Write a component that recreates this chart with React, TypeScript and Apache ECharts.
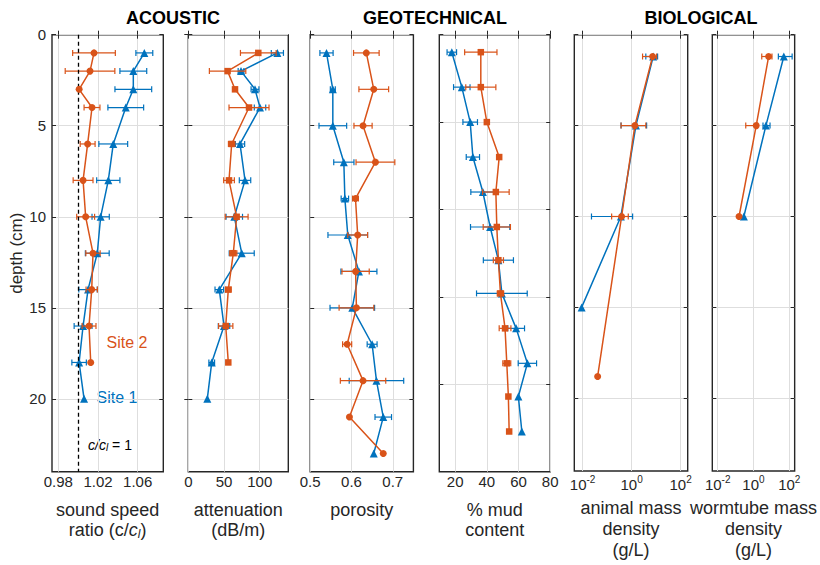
import React, { useEffect, useRef } from 'react';
import * as echarts from 'echarts';

const BLUE = '#0072BD';
const ORANGE = '#D95319';
const INK = '#262626';
const GRIDC = '#dedede';
const FONT = '"Liberation Sans", Arial, Helvetica, sans-serif';

// ---------- ACOUSTIC: sound speed ratio ----------
const ssDepthS1 = [1, 2, 3, 4, 6, 8, 10, 12, 14, 16, 18, 20];
const ssS1 = [1.0667, 1.0556, 1.0556, 1.048, 1.0354, 1.0304, 1.0227, 1.0193, 1.010, 1.005, 1.001, 1.006];
const ssErrS1 = [0.0085, 0.0135, 0.0185, 0.018, 0.0145, 0.0117, 0.0087, 0.012, 0.0093, 0.009, 0.0073, null];
const ssDepthS2 = [1, 2, 3, 4, 6, 8, 10, 12, 14, 16, 18];
const ssS2 = [1.016, 1.012, 1.001, 1.014, 1.0096, 1.005, 1.0076, 1.015, 1.0137, 1.011, 1.0127];
const ssErrS2 = [0.0215, 0.025, null, 0.008, 0.0075, 0.010, 0.009, 0.0072, 0.0057, 0.007, null];
const ssTicks = [0.98, 1.02, 1.06];

// ---------- ACOUSTIC: attenuation ----------
const atDepthS1 = [1, 2, 3, 4, 6, 8, 10, 12, 14, 16, 18, 20];
const atS1 = [124.7, 73.8, 93.4, 100.4, 72.4, 79.4, 64.4, 74.8, 43.4, 50, 32.8, 26.6];
const atErrS1 = [8.5, 4, 5.5, 8, 6.5, 8, 11.5, 17.5, 6, 8, 4, null];
const atDepthS2 = [1, 2, 3, 4, 6, 8, 10, 12, 14, 16, 18];
const atS2 = [98, 55, 65.4, 85, 60.7, 57, 67.7, 63, 56, 52.4, 56];
const atErrS2 = [25, 25.5, null, 28, 4.5, 7.5, 16, 5, 4, 10, null];
const atTicks = [0, 50, 100];

// ---------- GEOTECHNICAL: porosity ----------
const poDepth = [1, 3, 5, 7, 9, 11, 13, 15, 17, 19, 21, 23];
const poS1 = [0.5395, 0.5548, 0.5548, 0.5815, 0.584, 0.591, 0.618, 0.602, 0.650, 0.6605, 0.677, 0.654];
const poErrS1 = [0.016, 0.006, 0.0335, 0.0245, 0.009, 0.048, 0.0436, 0.054, 0.012, 0.066, 0.02, null];
const poS2 = [0.636, 0.654, 0.628, 0.658, 0.6097, 0.615, 0.61, 0.612, 0.5895, 0.628, 0.595, 0.677];
const poErrS2 = [0.031, 0.036, 0.022, 0.047, 0.007, 0.024, 0.033, 0.042, 0.011, 0.055, null, null];
const poTicks = [0.5, 0.6, 0.7];

// ---------- GEOTECHNICAL: % mud content ----------
const mdDepth = [1, 3, 5, 7, 9, 11, 12.9, 14.8, 16.8, 18.8, 20.7, 22.7];
const mdS1 = [17.9, 24.2, 29.5, 31.2, 37.5, 42.1, 47.3, 49.5, 58.5, 65.6, 59.9, 62.1];
const mdErrS1 = [3, 5.2, 4.6, 4.2, 7.6, 12.4, 9.5, 16, 5.3, 5.8, null, null];
const mdS2 = [36.2, 36.2, 40, 47.8, 45.7, 46.3, 47.3, 48.6, 51.5, 52.6, 53.6, 54.1];
const mdErrS2 = [10.2, 9.5, null, null, 8.4, 8.6, 3.2, 2, 3.7, 2.5, null, null];
const mdTicks = [20, 40, 60, 80];

// ---------- BIOLOGICAL: animal mass density (g/L) ----------
const anDepthS1 = [1.2, 5, 10, 15];
const anS1 = [7.6, 1.5, 0.365, 0.0091];
const anLoS1 = [3.8, 0.37, 0.023, null];
const anHiS1 = [11.5, 4.1, 1.1, null];
const anDepthS2 = [1.2, 5, 10, 18.8];
const anS2 = [7.2, 1.36, 0.39, 0.041];
const anLoS2 = [2.8, 0.37, 0.153, null];
const anHiS2 = [10.5, 3.8, 0.73, null];

// ---------- BIOLOGICAL: wormtube mass density (g/L) ----------
const wtDepth = [1.2, 5, 10];
const wtS1 = [49.5, 4.95, 0.29];
const wtLoS1 = [24.5, 3.4, null];
const wtHiS1 = [144, 8.4, null];
const wtS2 = [7.0, 1.42, 0.156];
const wtLoS2 = [2.9, 0.37, null];
const wtHiS2 = [10.8, 1.7, null];
const logTicks = [0.01, 1, 100];

const depthLabels = [0, 5, 10, 15, 20];
const depthMax = [24, 24, 24, 25, 24, 24];

type Site = {
  depth: number[];
  val: number[];
  lo: (number | null)[];
  hi: (number | null)[];
  color: string;
  symbol: string;
  size: number;
};

const sym = (val: number[], err: (number | null)[]) => ({
  lo: val.map((v, i) => (err[i] == null ? null : v - (err[i] as number))),
  hi: val.map((v, i) => (err[i] == null ? null : v + (err[i] as number))),
});

const TRI = 'triangle';

const panels = [
  {
    left: 52, width: 111.3, type: 'value', min: 0.9737, max: 1.0858, ticks: ssTicks,
    name: 'sound speed\nratio (c/{i|c}{sub|l})', fmt: (v: number) => v.toFixed(2),
    sites: [
      { depth: ssDepthS1, val: ssS1, ...sym(ssS1, ssErrS1), color: BLUE, symbol: TRI, size: 8 },
      { depth: ssDepthS2, val: ssS2, ...sym(ssS2, ssErrS2), color: ORANGE, symbol: 'circle', size: 7 },
    ],
  },
  {
    left: 188.3, width: 100, type: 'value', min: 0, max: 140, ticks: atTicks,
    name: 'attenuation\n(dB/m)', fmt: (v: number) => String(v),
    sites: [
      { depth: atDepthS1, val: atS1, ...sym(atS1, atErrS1), color: BLUE, symbol: TRI, size: 8 },
      { depth: atDepthS2, val: atS2, ...sym(atS2, atErrS2), color: ORANGE, symbol: 'rect', size: 6.5 },
    ],
  },
  {
    left: 310.2, width: 103.2, type: 'value', min: 0.5, max: 0.75, ticks: poTicks,
    name: 'porosity', fmt: (v: number) => v.toFixed(1),
    sites: [
      { depth: poDepth, val: poS1, ...sym(poS1, poErrS1), color: BLUE, symbol: TRI, size: 8 },
      { depth: poDepth, val: poS2, ...sym(poS2, poErrS2), color: ORANGE, symbol: 'circle', size: 7 },
    ],
  },
  {
    left: 439.3, width: 110.9, type: 'value', min: 10, max: 80, ticks: mdTicks,
    name: '% mud\ncontent', fmt: (v: number) => String(v),
    sites: [
      { depth: mdDepth, val: mdS1, ...sym(mdS1, mdErrS1), color: BLUE, symbol: TRI, size: 8 },
      { depth: mdDepth, val: mdS2, ...sym(mdS2, mdErrS2), color: ORANGE, symbol: 'rect', size: 6.5 },
    ],
  },
  {
    left: 574.3, width: 113.4, type: 'log', min: Math.pow(10, -2.34), max: Math.pow(10, 2.29), ticks: logTicks,
    name: 'animal mass\ndensity\n(g/L)', fmt: null,
    sites: [
      { depth: anDepthS1, val: anS1, lo: anLoS1, hi: anHiS1, color: BLUE, symbol: TRI, size: 8 },
      { depth: anDepthS2, val: anS2, lo: anLoS2, hi: anHiS2, color: ORANGE, symbol: 'circle', size: 7 },
    ],
  },
  {
    left: 712.3, width: 99.4, type: 'log', min: Math.pow(10, -2.3), max: Math.pow(10, 2.3), ticks: logTicks,
    name: 'wormtube mass\ndensity\n(g/L)', fmt: null,
    sites: [
      { depth: wtDepth, val: wtS1, lo: wtLoS1, hi: wtHiS1, color: BLUE, symbol: TRI, size: 8 },
      { depth: wtDepth, val: wtS2, lo: wtLoS2, hi: wtHiS2, color: ORANGE, symbol: 'circle', size: 7 },
    ],
  },
];

const TOP = 34.7;
const HEIGHT = 437;

function buildOption() {
  const grid: any[] = [];
  const xAxis: any[] = [];
  const yAxis: any[] = [];
  const series: any[] = [];

  panels.forEach((p, i) => {
    grid.push({
      left: p.left, top: TOP, width: p.width, height: HEIGHT,
      show: true, borderColor: INK, borderWidth: 1.4, backgroundColor: 'transparent',
    });
    const isLog = p.type === 'log';
    const labelFmt = isLog
      ? (v: number) => `{b|10}{s|${Math.round(Math.log10(v))}}`
      : p.fmt;
    xAxis.push({
      gridIndex: i, type: p.type, min: p.min, max: p.max, position: 'bottom',
      ...(isLog ? { logBase: 10 } : {}),
      axisLine: { show: false },
      axisTick: { show: true, inside: true, length: 4, customValues: p.ticks, lineStyle: { color: INK, width: 1 } },
      axisLabel: {
        show: true, customValues: p.ticks, formatter: labelFmt, margin: isLog ? 3 : 2,
        color: INK, fontSize: 15, fontFamily: FONT,
        rich: {
          b: { fontSize: 15, color: INK, fontFamily: FONT, lineHeight: 20 },
          s: { fontSize: 10, color: INK, fontFamily: FONT, verticalAlign: 'top', lineHeight: 12 },
        },
      },
      splitLine: { show: true, lineStyle: { color: GRIDC, width: 1 } },
      name: p.name, nameLocation: 'middle', nameGap: isLog ? 26 : 28,
      nameTextStyle: {
        color: INK, fontSize: 18, fontFamily: FONT, lineHeight: isLog ? 21 : 20, align: 'center',
        rich: {
          i: { fontStyle: 'italic', fontSize: 18, color: INK, fontFamily: FONT },
          sub: { fontStyle: 'italic', fontSize: 12, color: INK, fontFamily: FONT, verticalAlign: 'bottom', lineHeight: 14 },
        },
      },
    });
    xAxis.push({
      gridIndex: i, type: p.type, min: p.min, max: p.max, position: 'top',
      ...(isLog ? { logBase: 10 } : {}),
      axisLine: { show: false },
      axisTick: { show: true, inside: true, length: 4, customValues: p.ticks, lineStyle: { color: INK, width: 1 } },
      axisLabel: { show: false },
      splitLine: { show: false },
    });
    yAxis.push({
      gridIndex: i, type: 'value', inverse: true, min: 0, max: depthMax[i], interval: 5, position: 'left',
      axisLine: { show: false },
      axisTick: { show: true, inside: true, length: 4, customValues: depthLabels, lineStyle: { color: INK, width: 1 } },
      axisLabel: { show: i === 0, customValues: depthLabels, color: INK, fontSize: 15, fontFamily: FONT, margin: 6 },
      splitLine: { show: true, lineStyle: { color: GRIDC, width: 1 } },
      ...(i === 0
        ? { name: 'depth (cm)', nameLocation: 'middle', nameGap: 20, nameTextStyle: { color: INK, fontSize: 17, fontFamily: FONT } }
        : {}),
    });
    yAxis.push({
      gridIndex: i, type: 'value', inverse: true, min: 0, max: depthMax[i], interval: 5, position: 'right',
      axisLine: { show: false },
      axisTick: { show: true, inside: true, length: 4, customValues: depthLabels, lineStyle: { color: INK, width: 1 } },
      axisLabel: { show: false },
      splitLine: { show: false },
    });

    const xi = i * 2;
    const yi = i * 2;
    (p.sites as Site[]).forEach((s, si) => {
      const errData = s.depth
        .map((d, k) => (s.lo[k] == null ? null : [s.lo[k], s.hi[k], d]))
        .filter((x) => x !== null);
      const color = s.color;
      series.push({
        type: 'custom',
        xAxisIndex: xi, yAxisIndex: yi,
        encode: { x: [0, 1], y: 2 },
        data: errData,
        silent: true,
        z: 2 + si * 2,
        renderItem: (params: any, api: any) => {
          const y = api.value(2);
          const a = api.coord([api.value(0), y]);
          const b = api.coord([api.value(1), y]);
          const c = 3;
          const st = { stroke: color, lineWidth: 1.2 };
          return {
            type: 'group',
            children: [
              { type: 'line', shape: { x1: a[0], y1: a[1], x2: b[0], y2: b[1] }, style: st },
              { type: 'line', shape: { x1: a[0], y1: a[1] - c, x2: a[0], y2: a[1] + c }, style: st },
              { type: 'line', shape: { x1: b[0], y1: b[1] - c, x2: b[0], y2: b[1] + c }, style: st },
            ],
          };
        },
      });
      const line: any = {
        type: 'line',
        xAxisIndex: xi, yAxisIndex: yi,
        data: s.depth.map((d, k) => [s.val[k], d]),
        symbol: s.symbol, symbolSize: s.size,
        showSymbol: true,
        lineStyle: { color, width: 1.5 },
        itemStyle: { color },
        z: 3 + si * 2,
        silent: true,
      };
      if (i === 0 && si === 0) {
        line.markLine = {
          silent: true, symbol: ['none', 'none'], label: { show: false },
          lineStyle: { type: [4, 3], color: '#000', width: 1.3 },
          data: [{ xAxis: 1 }],
        };
      }
      series.push(line);
    });
  });

  const titleStyle = { fontSize: 18, fontWeight: 'bold', fill: '#000', fontFamily: FONT, align: 'center', verticalAlign: 'middle' };
  const graphic: any[] = [
    { type: 'text', x: 173, y: 18, style: { ...titleStyle, text: 'ACOUSTIC' } },
    { type: 'text', x: 435, y: 18, style: { ...titleStyle, text: 'GEOTECHNICAL' } },
    { type: 'text', x: 701, y: 18, style: { ...titleStyle, text: 'BIOLOGICAL' } },
    { type: 'text', x: 127, y: 342.5, style: { text: 'Site 2', fill: ORANGE, fontSize: 16, fontFamily: FONT, align: 'center', verticalAlign: 'middle' } },
    { type: 'text', x: 117, y: 397.5, style: { text: 'Site 1', fill: BLUE, fontSize: 16, fontFamily: FONT, align: 'center', verticalAlign: 'middle' } },
    {
      type: 'text', x: 110, y: 445,
      style: {
        text: '{i|c/c}{sub|l}{n| = 1}', align: 'center', verticalAlign: 'middle', fill: '#000',
        fontSize: 14, fontFamily: FONT,
        rich: {
          i: { fontStyle: 'italic', fontSize: 14, fontFamily: FONT, fill: '#000' },
          sub: { fontStyle: 'italic', fontSize: 10, fontFamily: FONT, fill: '#000', verticalAlign: 'bottom', lineHeight: 10 },
          n: { fontSize: 14, fontFamily: FONT, fill: '#000' },
        },
      },
    },
  ];

  return {
    animation: false,
    backgroundColor: '#ffffff',
    textStyle: { fontFamily: FONT },
    grid, xAxis, yAxis, series, graphic,
  };
}

export default function App() {
  const ref = useRef<HTMLDivElement>(null);
  useEffect(() => {
    if (!ref.current) return;
    const chart = echarts.init(ref.current, undefined, { renderer: 'svg' });
    chart.setOption(buildOption() as any);
    return () => chart.dispose();
  }, []);
  return (
    <div
      ref={ref}
      style={{ position: 'absolute', left: 0, top: 0, width: 820, height: 565, background: '#fff' }}
    />
  );
}
